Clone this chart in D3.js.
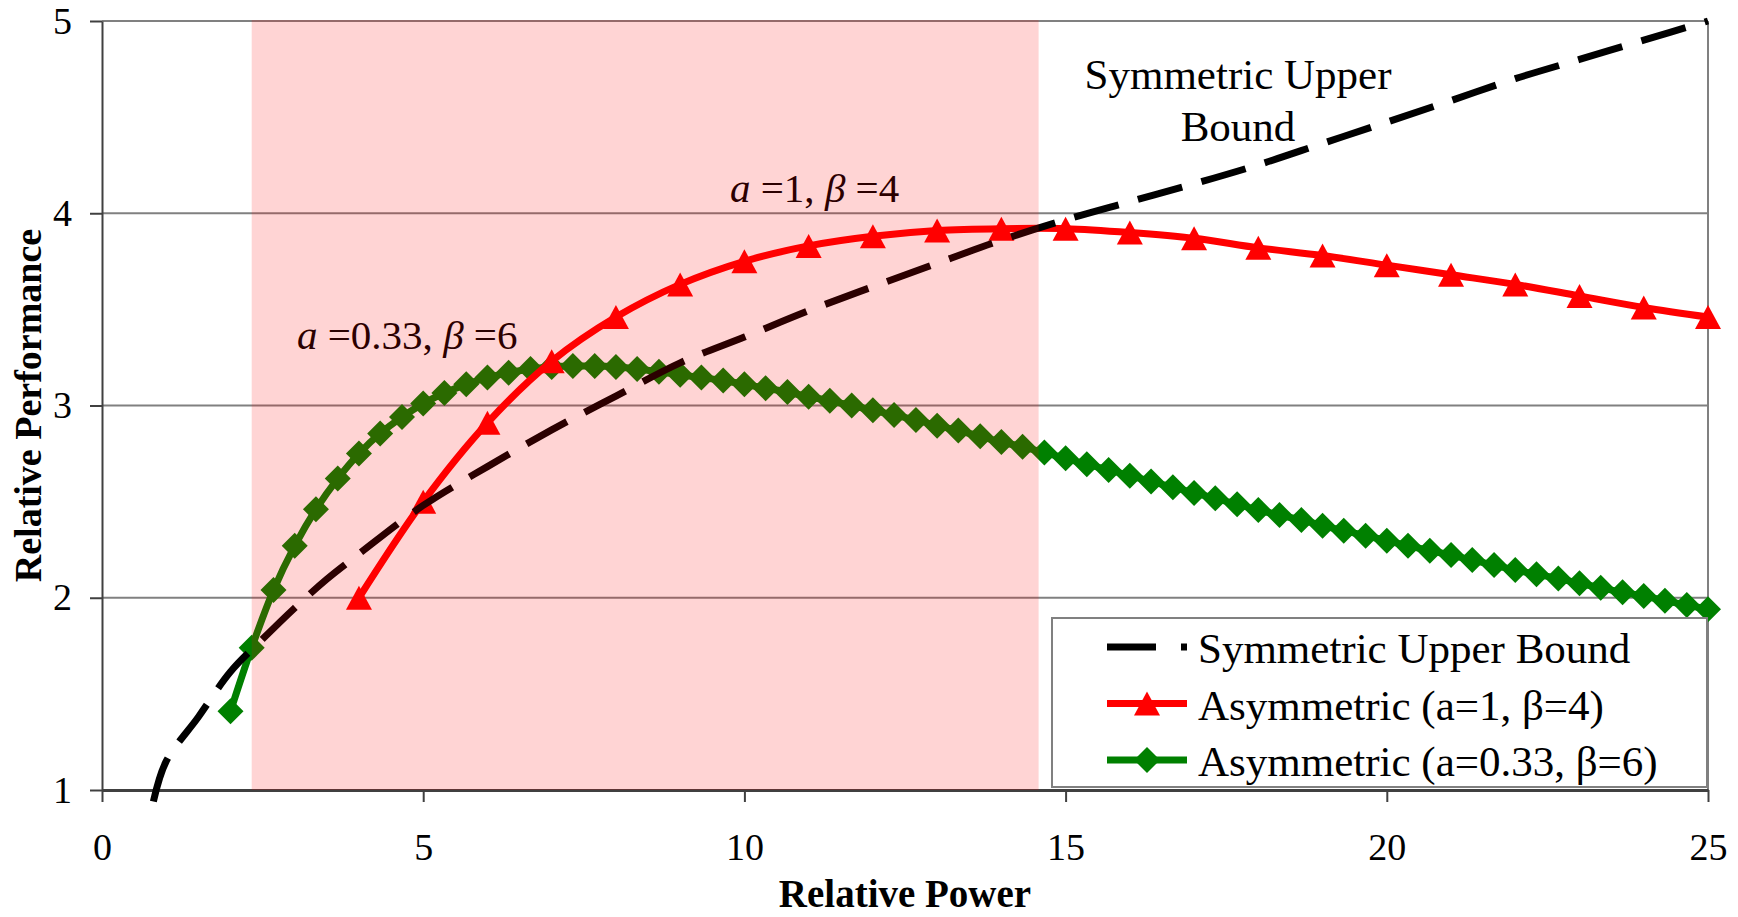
<!DOCTYPE html>
<html>
<head>
<meta charset="utf-8">
<script src="https://cdn.jsdelivr.net/npm/d3@7"></script>
<style>
  body { margin: 0; background: #fff; }
  svg text { font-family: "Liberation Serif", "Times New Roman", serif; fill: #000; }
</style>
</head>
<body>
<svg id="chart"></svg>
<script>
// symmetric upper bound (dashed)
const boundPower = [0.8, 1, 1.5, 2, 2.5, 3, 3.5, 4, 5, 6, 7, 8, 9, 10, 11, 12, 13, 14, 15,
                    16, 17, 18, 19, 20, 21, 22, 23, 24, 25];
const boundPerf  = [0.94, 1.15, 1.38, 1.615, 1.785, 1.947, 2.097, 2.228, 2.48, 2.682, 2.873,
                    3.049, 3.222, 3.356, 3.493, 3.618, 3.74, 3.86, 3.966, 4.06, 4.153, 4.252,
                    4.363, 4.474, 4.586, 4.70, 4.80, 4.90, 5.00];

// asymmetric a=1, beta=4 (red triangles)
const redPower = [4, 5, 6, 7, 8, 9, 10, 11, 12, 13, 14, 15, 16, 17, 18, 19, 20, 21, 22, 23, 24, 25];
const redPerf  = [2.00, 2.50, 2.91, 3.23, 3.46, 3.63, 3.75, 3.83, 3.88, 3.91, 3.92, 3.92,
                  3.90, 3.87, 3.82, 3.78, 3.73, 3.68, 3.63, 3.57, 3.51, 3.46];

// asymmetric a=0.33, beta=6 (green diamonds)
const greenPower = [2, 2.33, 2.67, 3, 3.33, 3.67, 4, 4.33, 4.67, 5, 5.33, 5.67, 6, 6.33, 6.67,
                    7, 7.33, 7.67, 8, 8.33, 8.67, 9, 9.33, 9.67, 10, 10.33, 10.67, 11, 11.33,
                    11.67, 12, 12.33, 12.67, 13, 13.33, 13.67, 14, 14.33, 14.67, 15, 15.33,
                    15.67, 16, 16.33, 16.67, 17, 17.33, 17.67, 18, 18.33, 18.67, 19, 19.33,
                    19.67, 20, 20.33, 20.67, 21, 21.33, 21.67, 22, 22.33, 22.67, 23, 23.33,
                    23.67, 24, 24.33, 24.67, 25];
const greenPerf  = [1.41, 1.74, 2.04, 2.27, 2.46, 2.62, 2.75, 2.855, 2.94, 3.01, 3.065, 3.11,
                    3.145, 3.17, 3.19, 3.20, 3.205, 3.205, 3.20, 3.19, 3.175, 3.16, 3.145, 3.13,
                    3.11, 3.09, 3.07, 3.045, 3.025, 3.0, 2.975, 2.95, 2.925, 2.895, 2.87, 2.84,
                    2.81, 2.785, 2.755, 2.725, 2.695, 2.665, 2.635, 2.605, 2.575, 2.545, 2.517,
                    2.486, 2.456, 2.43, 2.404, 2.375, 2.349, 2.323, 2.297, 2.271, 2.245, 2.222,
                    2.196, 2.17, 2.144, 2.122, 2.10, 2.075, 2.052, 2.028, 2.009, 1.985, 1.962, 1.94];

// shaded power range
const bandRange = [2.33, 14.58];

const xTicks = [0, 5, 10, 15, 20, 25];
const yTicks = [1, 2, 3, 4, 5];

const legendLabels = ['Symmetric Upper Bound', 'Asymmetric (a=1, \u03b2=4)', 'Asymmetric (a=0.33, \u03b2=6)'];


class PowerChart {

    constructor(element) {
        this.element = element;
        this.width = 1738;
        this.height = 917;
        this.left = 102;
        this.right = 1708;
        this.top = 21;
        this.bottom = 790;

        this.triangle = 'M0,-12L13,12L-13,12Z';
        this.diamond = 'M0,-13L13,0L0,13L-13,0Z';

        this.init();
        this.drawGrid();
        this.drawSeries();
        this.drawLabels();
        this.drawBand();
        this.drawLegend();
    }

    init() {
        let { element, width, height } = this;

        this.chart = d3.select(element)
                       .attr('width', width)
                       .attr('height', height);

        this.x = d3.scaleLinear().domain([0, 25]).range([this.left, this.right]);
        this.y = d3.scaleLinear().domain([1, 5]).range([this.bottom, this.top]);
    }

    drawGrid() {
        let { chart, x, y } = this;

        chart.append('g')
             .selectAll('line')
             .data(yTicks.slice(1))
             .join('line')
             .attr('x1', x(0)).attr('x2', x(25))
             .attr('y1', d => y(d)).attr('y2', d => y(d))
             .attr('stroke', '#808080')
             .attr('stroke-width', 2);

        chart.append('line')
             .attr('x1', x(25)).attr('x2', x(25))
             .attr('y1', y(5)).attr('y2', y(1))
             .attr('stroke', '#808080')
             .attr('stroke-width', 2);

        let yAxis = d3.axisLeft(y).tickValues(yTicks).tickFormat(d3.format('d'))
                      .tickSize(12).tickSizeOuter(0).tickPadding(18);
        let xAxis = d3.axisBottom(x).tickValues(xTicks).tickFormat(d3.format('d'))
                      .tickSize(12).tickSizeOuter(0).tickPadding(31);

        let gy = chart.append('g').attr('transform', `translate(${x(0)},0)`).call(yAxis);
        let gx = chart.append('g').attr('transform', `translate(0,${y(1)})`).call(xAxis);

        gy.selectAll('path, line').attr('stroke', '#404040').attr('stroke-width', 2);
        gx.selectAll('path, line').attr('stroke', '#404040').attr('stroke-width', 2);
        gx.select('.domain').attr('stroke-width', 3);

        [gx, gy].forEach(g => g.selectAll('text')
            .attr('font-family', '"Liberation Serif", serif')
            .attr('font-size', 38)
            .attr('fill', '#000'));
    }

    drawSeries() {
        let { chart, x, y } = this;

        let line = d3.line()
                     .x(d => x(d[0]))
                     .y(d => y(d[1]))
                     .curve(d3.curveCatmullRom.alpha(0.5));

        let green = d3.zip(greenPower, greenPerf);
        let red = d3.zip(redPower, redPerf);
        let bound = d3.zip(boundPower, boundPerf);

        chart.append('path')
             .attr('d', line(green))
             .attr('fill', 'none')
             .attr('stroke', '#008000')
             .attr('stroke-width', 7);

        chart.append('g')
             .selectAll('path')
             .data(green)
             .join('path')
             .attr('d', this.diamond)
             .attr('transform', d => `translate(${x(d[0])},${y(d[1])})`)
             .attr('fill', '#008000');

        chart.append('path')
             .attr('d', line(red))
             .attr('fill', 'none')
             .attr('stroke', '#ff0000')
             .attr('stroke-width', 7);

        chart.append('g')
             .selectAll('path')
             .data(red)
             .join('path')
             .attr('d', this.triangle)
             .attr('transform', d => `translate(${x(d[0])},${y(d[1])})`)
             .attr('fill', '#ff0000');

        chart.append('path')
             .attr('d', line(bound))
             .attr('fill', 'none')
             .attr('stroke', '#000')
             .attr('stroke-width', 7)
             .attr('stroke-dasharray', '46,20');
    }

    drawLabels() {
        let { chart } = this;

        let upper = chart.append('text')
                         .attr('font-size', 43)
                         .attr('text-anchor', 'middle');
        upper.append('tspan').attr('x', 1238).attr('y', 89).text('Symmetric Upper');
        upper.append('tspan').attr('x', 1238).attr('y', 141).text('Bound');

        let label = (px, py, a, b) => {
            let t = chart.append('text')
                         .attr('x', px).attr('y', py)
                         .attr('font-size', 41);
            t.append('tspan').attr('font-style', 'italic').text('a');
            t.append('tspan').text(` =${a}, `);
            t.append('tspan').attr('font-style', 'italic').text('\u03b2');
            t.append('tspan').text(` =${b}`);
        };
        label(730, 202, '1', '4');
        label(297, 349, '0.33', '6');

        chart.append('text')
             .attr('x', (this.left + this.right) / 2)
             .attr('y', 907)
             .attr('text-anchor', 'middle')
             .attr('font-weight', 'bold')
             .attr('font-size', 39)
             .text('Relative Power');

        chart.append('text')
             .attr('transform', `translate(41,${(this.top + this.bottom) / 2}) rotate(-90)`)
             .attr('text-anchor', 'middle')
             .attr('font-weight', 'bold')
             .attr('font-size', 38)
             .text('Relative Performance');
    }

    drawBand() {
        let { chart, x, y } = this;

        chart.append('rect')
             .attr('x', x(bandRange[0]))
             .attr('width', x(bandRange[1]) - x(bandRange[0]))
             .attr('y', y(5) - 1)
             .attr('height', y(1) - y(5) + 1)
             .attr('fill', 'rgba(255,0,0,0.17)');
    }

    drawLegend() {
        let { chart } = this;

        let box = chart.append('g');
        box.append('rect')
           .attr('x', 1052).attr('y', 618)
           .attr('width', 655).attr('height', 169)
           .attr('fill', '#fff')
           .attr('stroke', '#808080')
           .attr('stroke-width', 2);

        let rows = box.selectAll('g.row')
                      .data(legendLabels)
                      .join('g')
                      .attr('class', 'row')
                      .attr('transform', (d, i) => `translate(1107,${647 + i * 56.5})`);

        rows.append('line')
            .attr('x1', 0).attr('x2', 80)
            .attr('stroke', (d, i) => ['#000', '#ff0000', '#008000'][i])
            .attr('stroke-width', 7)
            .attr('stroke-dasharray', (d, i) => i === 0 ? '49,25' : null);

        rows.filter((d, i) => i === 1).append('path').attr('d', this.triangle)
            .attr('transform', 'translate(40,0)').attr('fill', '#ff0000');
        rows.filter((d, i) => i === 2).append('path').attr('d', this.diamond)
            .attr('transform', 'translate(40,0)').attr('fill', '#008000');

        rows.append('text')
            .attr('x', 91)
            .attr('y', 16)
            .attr('font-size', 43)
            .text(d => d);
    }

}

new PowerChart('#chart');
</script>
</body>
</html>
